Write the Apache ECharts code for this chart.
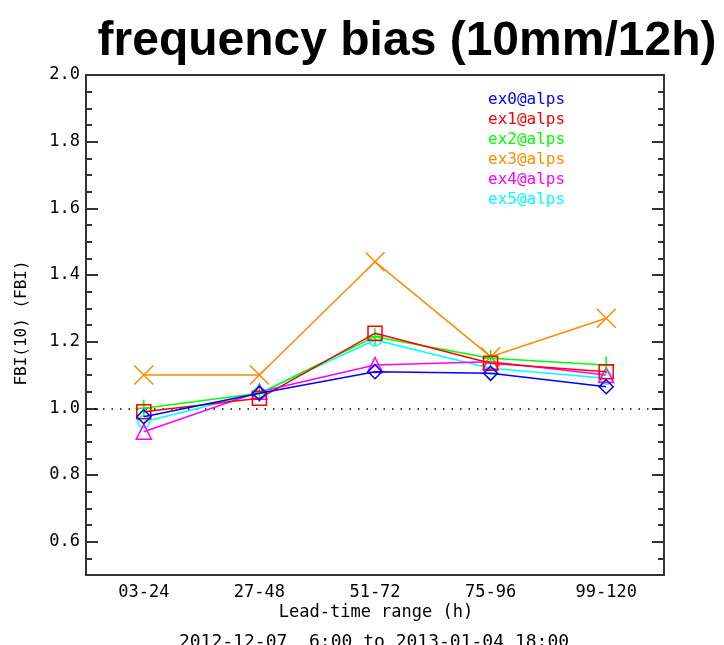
<!DOCTYPE html>
<html>
<head>
<meta charset="utf-8">
<script src="https://cdn.jsdelivr.net/npm/echarts@6/dist/echarts.min.js"></script>
<style>html,body{margin:0;padding:0;background:#fff;}#c{width:724px;height:645px;}</style>
</head>
<body>
<div id="c"></div>
<script>
var categories = ['03-24', '27-48', '51-72', '75-96', '99-120'];
var seriesNames = ['ex0@alps', 'ex1@alps', 'ex2@alps', 'ex3@alps', 'ex4@alps', 'ex5@alps'];
var ex0 = [0.975, 1.045, 1.11, 1.105, 1.065];
var ex1 = [0.99, 1.03, 1.225, 1.135, 1.11];
var ex2 = [1.0, 1.045, 1.215, 1.15, 1.13];
var ex3 = [1.10, 1.10, 1.44, 1.155, 1.27];
var ex4 = [0.93, 1.05, 1.13, 1.14, 1.10];
var ex5 = [0.96, 1.045, 1.205, 1.12, 1.09];
var yLabels = [0.6, 0.8, 1.0, 1.2, 1.4, 1.6, 1.8, 2.0];
var yMinorTicks = [0.55, 0.6, 0.65, 0.7, 0.75, 0.8, 0.85, 0.9, 0.95, 1.0, 1.05, 1.1, 1.15, 1.2, 1.25, 1.3, 1.35, 1.4, 1.45, 1.5, 1.55, 1.6, 1.65, 1.7, 1.75, 1.8, 1.85, 1.9, 1.95];
var refLine = 1.0;

var allData = [ex0, ex1, ex2, ex3, ex4, ex5];
var colors = ['#0000ff', '#ff0000', '#00ff00', '#ff8c00', '#ff00ff', '#00ffff'];
var symbols = [
  'diamond',
  'rect',
  'path://M5,0L5,10M0,5L10,5',
  'path://M0,0L10,10M10,0L0,10',
  'triangle',
  'circle'
];
var sizes = [14, 14, 17, 19, 15, 12];
var mono = '"DejaVu Sans Mono", monospace';

var chart = echarts.init(document.getElementById('c'));
var series = allData.map(function (d, i) {
  return {
    name: seriesNames[i],
    type: 'line',
    data: d,
    symbol: symbols[i],
    symbolSize: sizes[i],
    showAllSymbol: true,
    lineStyle: { color: colors[i], width: 1.5 },
    itemStyle: { color: 'rgba(0,0,0,0)', borderColor: colors[i], borderWidth: 1.5 },
    emphasis: { disabled: true },
    animation: false,
    z: 10 - i
  };
});
series[0].markLine = {
  silent: true,
  symbol: ['none', 'none'],
  label: { show: false },
  lineStyle: { color: '#000', type: [1.5, 7], width: 1.5 },
  data: [{ yAxis: refLine }],
  animation: false
};

var axisLineStyle = { color: '#333', width: 2 };
var tickStyle = { color: '#333', width: 2 };
function yAx(pos, showLine, len, vals, labels) {
  return {
    type: 'value', min: 0.5, max: 2.0, interval: 0.1, position: pos,
    axisLine: { show: showLine, lineStyle: axisLineStyle },
    axisTick: { show: true, inside: true, length: len, customValues: vals, lineStyle: tickStyle },
    axisLabel: labels ? { color: '#000', fontFamily: mono, fontSize: 17, margin: 6, customValues: yLabels,
      formatter: function (v) { return v.toFixed(1); } } : { show: false },
    splitLine: { show: false }
  };
}
var option = {
  backgroundColor: '#fff',
  animation: false,
  grid: { left: 86, right: 60, top: 75, bottom: 70 },
  xAxis: [{
    type: 'category', data: categories, boundaryGap: true, position: 'bottom',
    axisLine: { lineStyle: axisLineStyle },
    axisTick: { inside: true, length: 12, alignWithLabel: true, lineStyle: tickStyle },
    axisLabel: { color: '#000', fontFamily: mono, fontSize: 17, margin: 9 },
    splitLine: { show: false }
  }, {
    type: 'category', data: categories, boundaryGap: true, position: 'top',
    axisLine: { lineStyle: axisLineStyle },
    axisTick: { inside: true, length: 12, alignWithLabel: true, lineStyle: tickStyle },
    axisLabel: { show: false },
    splitLine: { show: false }
  }],
  yAxis: [
    yAx('left', true, 6, yMinorTicks, true),
    yAx('left', false, 12, yLabels, false),
    yAx('right', true, 6, yMinorTicks, false),
    yAx('right', false, 12, yLabels, false)
  ],
  series: series,
  graphic: [
    { type: 'text', style: { text: 'frequency bias (10mm/12h)', x: 407, y: 42, textAlign: 'center', textVerticalAlign: 'middle', font: 'bold 48px "Liberation Sans", Arial, sans-serif', fill: '#000' } },
    { type: 'text', style: { text: 'Lead-time range (h)', x: 376, y: 613, textAlign: 'center', textVerticalAlign: 'middle', font: '17px ' + mono, fill: '#000' } },
    { type: 'text', style: { text: '2012-12-07  6:00 to 2013-01-04 18:00', x: 374, y: 642, textAlign: 'center', textVerticalAlign: 'middle', font: '18px ' + mono, fill: '#000' } },
    { type: 'text', rotation: Math.PI / 2, x: 22, y: 323, style: { text: 'FBI(10) (FBI)', x: 0, y: 0, textAlign: 'center', textVerticalAlign: 'middle', font: '16px ' + mono, fill: '#000' } }
  ].concat(seriesNames.map(function (n, i) {
    return { type: 'text', style: { text: n, x: 488, y: 100 + i * 20, textAlign: 'left', textVerticalAlign: 'middle', font: '16px ' + mono, fill: colors[i] } };
  }))
};
chart.setOption(option);
</script>
</body>
</html>
